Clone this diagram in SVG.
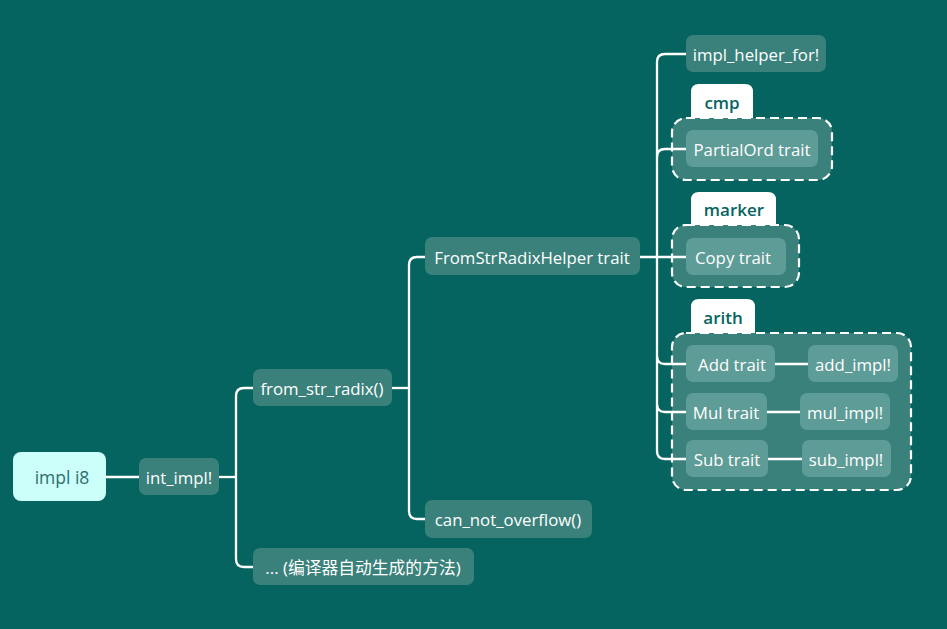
<svg xmlns="http://www.w3.org/2000/svg" width="947" height="629" viewBox="0 0 947 629">
<style>
text{font-family:"Open Sans","Noto Sans","Noto Sans CJK SC",sans-serif;font-size:16.8px;fill:#ffffff;text-anchor:middle;dominant-baseline:central}
.n{fill:#3a817b}
.i{fill:#5e9c97}
.b{fill:#3a817b;stroke:#ffffff;stroke-width:2.2;stroke-dasharray:9 5}
.tab{fill:#ffffff}
.tt{fill:#05645f;font-weight:600;font-size:17px}
.c{fill:none;stroke:#ffffff;stroke-width:2.3}
</style>
<rect width="947" height="629" fill="#05645f"/>
<g id="boundaries">
<g id="cmp">
<path class="tab" d="M691,119 V92 Q691,84 699,84 H745 Q753,84 753,92 V119 Z"/>
<text class="tt" x="722" y="102">cmp</text>
<rect class="b" x="672" y="118" width="160" height="62" rx="14"/>
</g>
<g id="marker">
<path class="tab" d="M691,226 V200 Q691,192 699,192 H768 Q776,192 776,200 V226 Z"/>
<text class="tt" x="734" y="209">marker</text>
<rect class="b" x="672" y="225" width="127" height="62" rx="14"/>
</g>
<g id="arith">
<path class="tab" d="M691,334 V307 Q691,299 699,299 H747 Q755,299 755,307 V334 Z"/>
<text class="tt" x="723" y="317">arith</text>
<rect class="b" x="672" y="333" width="239" height="157" rx="14"/>
</g>
</g>
<g id="connectors">
<path class="c" d="M106,477 H139"/>
<path class="c" d="M219,477 H236"/>
<path class="c" d="M253,388 H244 Q236,388 236,396 V559 Q236,567 244,567 H253"/>
<path class="c" d="M392,388 H409"/>
<path class="c" d="M425,257 H417 Q409,257 409,265 V511 Q409,519 417,519 H425"/>
<path class="c" d="M640,257 H686"/>
<path class="c" d="M686,54 H665 Q657,54 657,62 V451 Q657,459 665,459 H686"/>
<path class="c" d="M686,149 H665 Q657,149 657,157"/>
<path class="c" d="M686,364 H665 Q657,364 657,356"/>
<path class="c" d="M686,412 H665 Q657,412 657,404"/>
<path class="c" d="M775,364 H808"/>
<path class="c" d="M767,412 H800"/>
<path class="c" d="M768,459 H802"/>
</g>
<g id="impl_i8">
<rect x="13" y="452" width="93" height="49" rx="8" fill="#ccfffa"/>
<text x="62" y="477" style="fill:#2b6f6c;font-size:17.5px">impl i8</text>
</g>
<g id="int_impl">
<rect class="n" x="139" y="458" width="80" height="37" rx="7"/>
<text x="179" y="477">int_impl!</text>
</g>
<g id="from_str_radix">
<rect class="n" x="253" y="369" width="139" height="37" rx="7"/>
<text x="322" y="388">from_str_radix()</text>
</g>
<g id="auto_methods">
<rect class="n" x="253" y="548" width="221" height="37" rx="7"/>
<text x="363" y="567">... (编译器自动生成的方法)</text>
</g>
<g id="FromStrRadixHelper">
<rect class="n" x="425" y="237" width="215" height="38" rx="7"/>
<text x="532" y="257">FromStrRadixHelper trait</text>
</g>
<g id="can_not_overflow">
<rect class="n" x="425" y="500" width="167" height="38" rx="7"/>
<text x="508" y="519">can_not_overflow()</text>
</g>
<g id="impl_helper_for">
<rect class="n" x="686" y="35" width="140" height="37" rx="7"/>
<text x="756" y="54">impl_helper_for!</text>
</g>
<g id="PartialOrd">
<rect class="i" x="686" y="130" width="132" height="37" rx="7"/>
<text x="752" y="149">PartialOrd trait</text>
</g>
<g id="Copy">
<rect class="i" x="686" y="238" width="100" height="37" rx="7"/>
<text x="733" y="257">Copy trait</text>
</g>
<g id="Add">
<rect class="i" x="686" y="345" width="89" height="37" rx="7"/>
<text x="732" y="364">Add trait</text>
</g>
<g id="add_impl">
<rect class="i" x="808" y="345" width="90" height="37" rx="7"/>
<text x="853" y="364">add_impl!</text>
</g>
<g id="Mul">
<rect class="i" x="686" y="393" width="81" height="37" rx="7"/>
<text x="726" y="412">Mul trait</text>
</g>
<g id="mul_impl">
<rect class="i" x="800" y="393" width="90" height="37" rx="7"/>
<text x="845" y="412">mul_impl!</text>
</g>
<g id="Sub">
<rect class="i" x="686" y="440" width="82" height="37" rx="7"/>
<text x="727" y="459">Sub trait</text>
</g>
<g id="sub_impl">
<rect class="i" x="802" y="440" width="89" height="37" rx="7"/>
<text x="846" y="459">sub_impl!</text>
</g>
</svg>
